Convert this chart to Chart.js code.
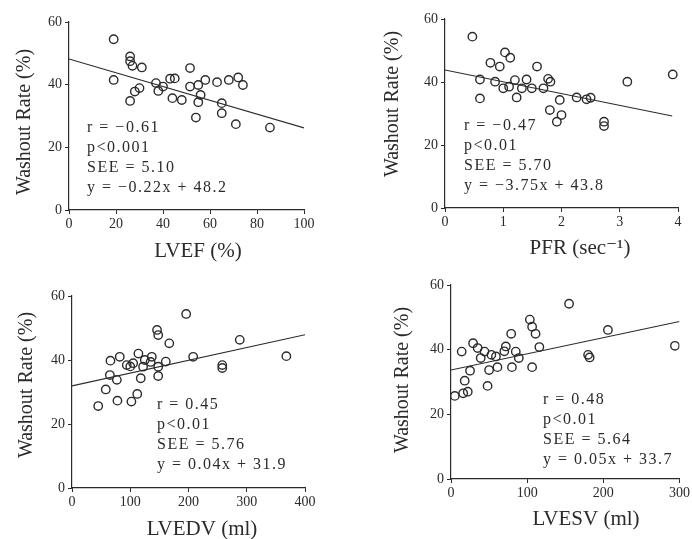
<!DOCTYPE html>
<html>
<head>
<meta charset="utf-8">
<script src="https://cdn.jsdelivr.net/npm/chart.js@4/dist/chart.umd.min.js"></script>
<style>
  body { margin: 0; background: #fff; }
  .panel { position: absolute; }
</style>
</head>
<body>
<div class="panel" style="left:0;top:0"><canvas id="c1" width="346" height="270"></canvas></div>
<div class="panel" style="left:346px;top:0"><canvas id="c2" width="346" height="270"></canvas></div>
<div class="panel" style="left:0;top:270px"><canvas id="c3" width="346" height="269"></canvas></div>
<div class="panel" style="left:346px;top:270px"><canvas id="c4" width="346" height="269"></canvas></div>
<script>
// values
const yTitle = "Washout Rate (%)";

const lvefX = [19, 26, 26, 27, 31, 19, 30, 26, 28, 37, 38, 40, 43, 45, 44, 48, 51.5, 51.5, 55, 56, 55, 58, 63, 68, 72, 74, 65, 65, 54, 71, 85.5];
const lvefY = [54.5, 49, 47.5, 46, 45.5, 41.5, 38.9, 34.8, 37.8, 40.5, 38, 39.4, 41.9, 42, 35.7, 35.1, 45.3, 39.4, 39.9, 36.7, 34.4, 41.5, 40.8, 41.5, 42.3, 39.9, 34.1, 30.9, 29.5, 27.4, 26.3];
const lvefFitX = [0, 100];
const lvefFitY = [48.2, 26.2];
const lvefStats = ["r = −0.61", "p<0.001", "SEE = 5.10", "y = −0.22x + 48.2"];

const pfrX = [0.47, 1.03, 1.12, 0.78, 0.94, 1.58, 0.6, 0.6, 0.86, 1.0, 1.2, 1.23, 1.4, 1.32, 1.49, 1.69, 1.77, 1.81, 1.1, 1.97, 1.8, 2.0, 1.92, 2.26, 2.43, 2.5, 2.73, 2.73, 3.13, 3.91];
const pfrY = [54.4, 49.4, 47.7, 46.1, 44.9, 44.9, 40.8, 34.8, 40.1, 38, 40.6, 35.1, 40.8, 38, 38, 38, 41, 40.1, 38.5, 34.3, 31.1, 29.5, 27.4, 35.1, 34.5, 35, 27.4, 26, 40.1, 42.4];
const pfrFitX = [0, 3.9];
const pfrFitY = [43.8, 29.2];
const pfrStats = ["r = −0.47", "p<0.01", "SEE = 5.70", "y = −3.75x + 43.8"];

const lvedvX = [196, 146, 148, 167, 288, 208, 161, 368, 258, 258, 66, 82, 94, 105, 114, 122, 137, 135, 148, 148, 118, 65, 77, 58, 112, 102, 78, 45, 100, 125];
const lvedvY = [54.4, 49.4, 47.8, 45.2, 46.3, 41, 39.5, 41.2, 38.4, 37.5, 39.8, 41, 38.4, 39, 42, 37.9, 41, 39.4, 37.9, 35, 34.3, 35.3, 33.8, 30.8, 29.4, 27, 27.3, 25.6, 38, 40];
const lvedvFitX = [0, 400];
const lvedvFitY = [31.9, 47.9];
const lvedvStats = ["r = 0.45", "p<0.01", "SEE = 5.76", "y = 0.04x + 31.9"];

const lvesvX = [155, 103.5, 106.5, 111, 79, 116, 206, 294, 180, 182, 14, 29, 35, 44, 39, 53, 59, 72, 70, 85, 89, 61, 50, 80, 106.5, 25, 18, 48, 22, 16, 5];
const lvesvY = [54.2, 49.3, 47.1, 44.9, 44.9, 40.8, 46.1, 41.2, 38.4, 37.6, 39.4, 42, 40.5, 39.4, 37.4, 38.4, 37.9, 41, 39.5, 39.4, 37.4, 34.6, 33.7, 34.6, 34.6, 33.5, 30.4, 28.8, 27, 26.5, 25.7];
const lvesvFitX = [0, 300];
const lvesvFitY = [33.7, 48.7];
const lvesvStats = ["r = 0.48", "p<0.01", "SEE = 5.64", "y = 0.05x + 33.7"];

const INK = "#2b2b2b";
const SERIF = '"Liberation Serif", "DejaVu Serif", serif';

// draws the r / p / SEE block and both axis titles
const panelText = {
  id: "panelText",
  afterDraw(chart, args, opts) {
    const ctx = chart.ctx;
    ctx.save();
    ctx.fillStyle = INK;
    ctx.textBaseline = "middle";

    ctx.font = "16px " + SERIF;
    ctx.letterSpacing = "1.5px";
    opts.lines.forEach((t, i) => ctx.fillText(t, opts.x, opts.y + i * opts.gap));
    ctx.letterSpacing = "0px";

    ctx.textAlign = "center";
    ctx.font = "21px " + SERIF;
    ctx.fillText(opts.xTitle, opts.xtX, opts.xtY);

    ctx.font = "20px " + SERIF;
    ctx.translate(opts.ytX, opts.ytY);
    ctx.rotate(-Math.PI / 2);
    ctx.fillText(yTitle, 0, 0);
    ctx.restore();
  }
};

function pairs(xs, ys) {
  return xs.map((x, i) => ({ x: x, y: ys[i] }));
}

function makePanel(id, p) {
  const canvas = document.getElementById(id);
  new Chart(canvas, {
    type: "scatter",
    data: {
      datasets: [
        {
          data: pairs(p.xs, p.ys),
          pointStyle: "circle",
          pointRadius: 4.2,
          pointBorderWidth: 1.4,
          pointBorderColor: INK,
          pointBackgroundColor: "rgba(0,0,0,0)",
        },
        {
          type: "line",
          data: pairs(p.fitX, p.fitY),
          borderColor: INK,
          borderWidth: 1.1,
          pointRadius: 0,
          fill: false,
        },
      ],
    },
    options: {
      responsive: false,
      animation: false,
      events: [],
      layout: { padding: { top: p.top, right: p.right, left: 0, bottom: 0 } },
      plugins: {
        legend: { display: false },
        tooltip: { enabled: false },
        panelText: {
          lines: p.stats, x: p.sx, y: p.sy, gap: 20,
          xTitle: p.xTitle, xtX: p.xtX, xtY: p.xtY, ytX: p.ytX, ytY: p.ytY,
        },
      },
      scales: {
        x: {
          type: "linear",
          min: p.xMin,
          max: p.xMax,
          ticks: { stepSize: p.xStep, color: INK, font: { family: SERIF, size: 14 }, padding: 2, maxRotation: 0 },
          grid: { drawOnChartArea: false, drawTicks: true, tickLength: 4, color: INK },
          border: { display: true, color: INK, width: 1.2 },
          afterFit(scale) { scale.height = p.xH; },
        },
        y: {
          min: 0,
          max: 60,
          ticks: { stepSize: 20, color: INK, font: { family: SERIF, size: 14 }, padding: 3 },
          grid: { drawOnChartArea: false, drawTicks: true, tickLength: 4, color: INK },
          border: { display: true, color: INK, width: 1.2 },
          afterFit(scale) { scale.width = p.yW; },
        },
      },
    },
    plugins: [panelText],
  });
}

makePanel("c1", {
  xs: lvefX, ys: lvefY, fitX: lvefFitX, fitY: lvefFitY, stats: lvefStats,
  xMin: 0, xMax: 100, xStep: 20, xTitle: "LVEF (%)",
  top: 22, right: 42, yW: 69, xH: 60, sx: 87, sy: 128,
  xtX: 198, xtY: 251, ytX: 25, ytY: 122,
});
makePanel("c2", {
  xs: pfrX, ys: pfrY, fitX: pfrFitX, fitY: pfrFitY, stats: pfrStats,
  xMin: 0, xMax: 4, xStep: 1, xTitle: "PFR (sec⁻¹)",
  top: 19, right: 14, yW: 99, xH: 62, sx: 118, sy: 126,
  xtX: 234, xtY: 248, ytX: 47, ytY: 104,
});
makePanel("c3", {
  xs: lvedvX, ys: lvedvY, fitX: lvedvFitX, fitY: lvedvFitY, stats: lvedvStats,
  xMin: 0, xMax: 400, xStep: 100, xTitle: "LVEDV (ml)",
  top: 26, right: 41, yW: 72, xH: 51, sx: 157, sy: 135,
  xtX: 202, xtY: 259, ytX: 27, ytY: 115,
});
makePanel("c4", {
  xs: lvesvX, ys: lvesvY, fitX: lvesvFitX, fitY: lvesvFitY, stats: lvesvStats,
  xMin: 0, xMax: 300, xStep: 100, xTitle: "LVESV (ml)",
  top: 15, right: 9, yW: 105, xH: 60, sx: 197, sy: 130,
  xtX: 240, xtY: 249, ytX: 57, ytY: 110,
});
</script>
</body>
</html>
